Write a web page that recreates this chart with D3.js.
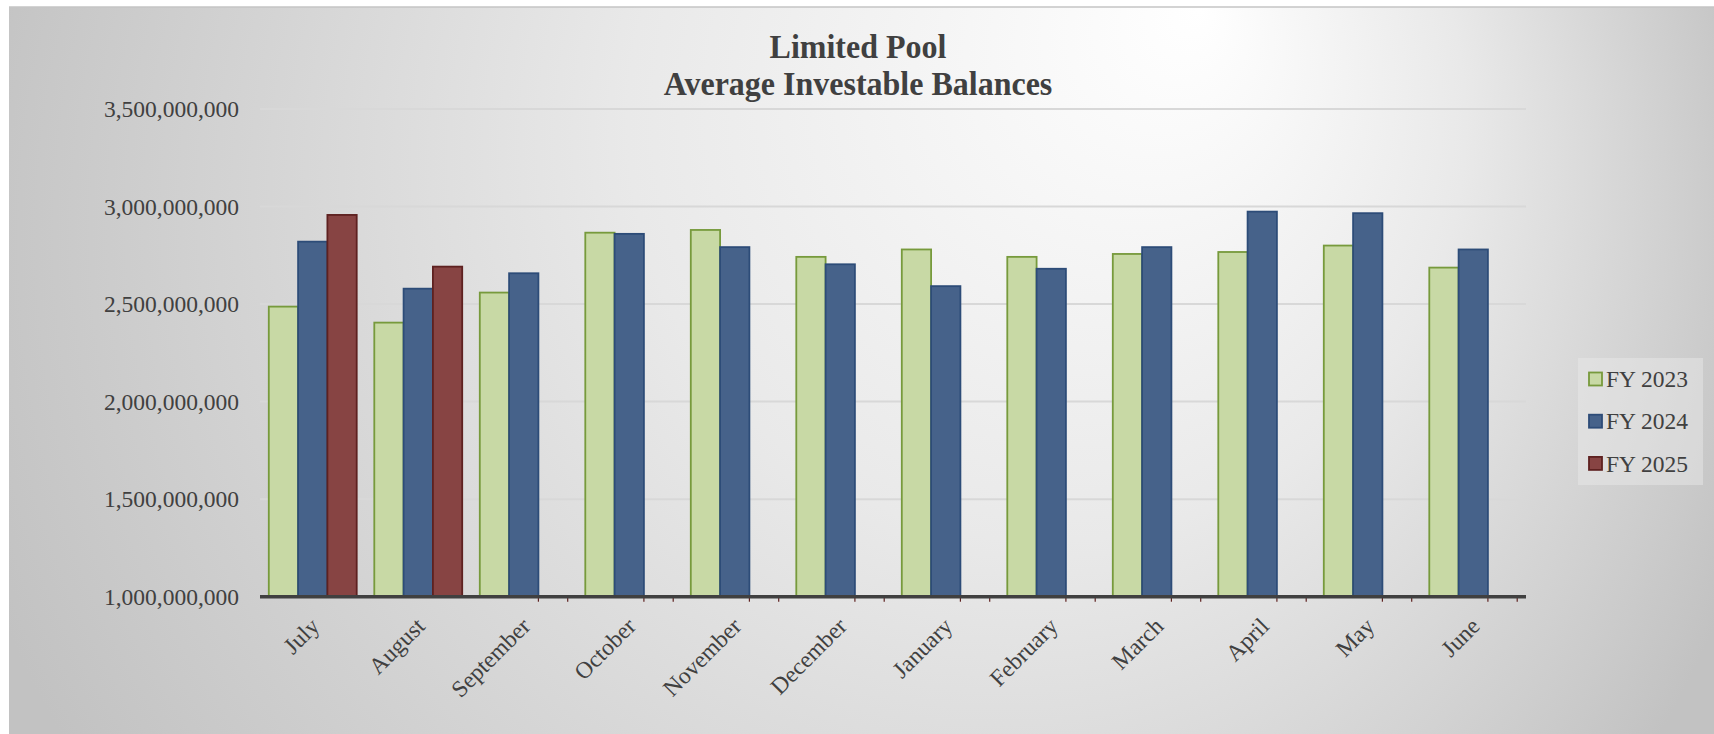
<!DOCTYPE html>
<html>
<head>
<meta charset="utf-8">
<script src="https://cdn.jsdelivr.net/npm/d3@7"></script>
<style>
  html, body { margin: 0; padding: 0; background: #ffffff; }
  svg { display: block; }
  text { font-family: "Liberation Serif", "Times New Roman", serif; fill: #404040; }
</style>
</head>
<body>
<svg id="chart" width="1714" height="734"></svg>
<script>
const months = ["July","August","September","October","November","December","January","February","March","April","May","June"];
const seriesNames = ["FY 2023","FY 2024","FY 2025"];
const fy2023 = [2487000000, 2405000000, 2559000000, 2866000000, 2880000000, 2742000000, 2780000000, 2742000000, 2757000000, 2767000000, 2800000000, 2687000000];
const fy2024 = [2820000000, 2579000000, 2658000000, 2860000000, 2792000000, 2704000000, 2592000000, 2681000000, 2792000000, 2974000000, 2966000000, 2780000000];
const fy2025 = [2957000000, 2692000000, null, null, null, null, null, null, null, null, null, null];
const yTicks = [1000000000, 1500000000, 2000000000, 2500000000, 3000000000, 3500000000];
const titleLines = ["Limited Pool", "Average Investable Balances"];

(function () {
const seriesValues = [fy2023, fy2024, fy2025];
const fills = ["#c8d9a5", "#46628a", "#874443"];
const strokes = ["#779a3c", "#2d4c78", "#5e2120"];

const svg = d3.select("#chart");
const W = 1714, H = 734;

// background gradient
const defs = svg.append("defs");
const grad = defs.append("radialGradient")
  .attr("id", "bg")
  .attr("gradientUnits", "userSpaceOnUse")
  .attr("cx", 860).attr("cy", 260).attr("r", 930)
  .attr("fx", 1200).attr("fy", 10);
grad.append("stop").attr("offset", "0").attr("stop-color", "#ffffff");
grad.append("stop").attr("offset", "0.45").attr("stop-color", "#e9e9e9");
grad.append("stop").attr("offset", "1").attr("stop-color", "#c2c2c2");

svg.append("rect").attr("x", 9).attr("y", 7).attr("width", W - 9).attr("height", H - 7)
  .attr("fill", "url(#bg)");
svg.append("line").attr("x1", 9).attr("x2", W).attr("y1", 7).attr("y2", 7)
  .attr("stroke", "#c4c4c4").attr("stroke-width", 1.5);

const pLeft = 260, pRight = 1526, pTop = 109, pBottom = 596.7;

const x0 = d3.scaleBand().domain(months).range([pLeft, pRight]).paddingInner(0).paddingOuter(0);
const x1 = d3.scaleBand().domain(seriesNames).range([0, x0.bandwidth()]).paddingInner(0).paddingOuter(0.3);
const y = d3.scaleLinear().domain([1000000000, 3500000000]).range([pBottom, pTop]);

// gridlines
svg.append("g").selectAll("line").data(yTicks.filter(d => d > 1000000000)).join("line")
  .attr("x1", pLeft).attr("x2", pRight)
  .attr("y1", d => y(d)).attr("y2", d => y(d))
  .attr("stroke", "#d8d8d8").attr("stroke-width", 2);

// y axis labels
const yAxis = d3.axisLeft(y).tickValues(yTicks).tickFormat(d3.format(",")).tickSize(0).tickPadding(21);
const gy = svg.append("g").attr("transform", `translate(${pLeft},0)`).call(yAxis);
gy.select(".domain").remove();
gy.selectAll("text")
  .style("font-family", '"Liberation Serif", "Times New Roman", serif')
  .style("font-size", "23.5px").attr("fill", "#404040");

// bars
const groups = svg.append("g").selectAll("g").data(months).join("g")
  .attr("transform", d => `translate(${x0(d)},0)`);

groups.each(function(m, i) {
  const g = d3.select(this);
  seriesNames.forEach((s, si) => {
    const v = seriesValues[si][i];
    if (v == null) {
      [x1(s), x1(s) + x1.bandwidth()].forEach(xx => {
        g.append("line").attr("x1", xx).attr("x2", xx)
          .attr("y1", y(1000000000)).attr("y2", y(1000000000) + 5)
          .attr("stroke", strokes[si]).attr("stroke-width", 1.2);
      });
      return;
    }
    g.append("rect")
      .attr("x", x1(s))
      .attr("y", y(v))
      .attr("width", x1.bandwidth())
      .attr("height", y(1000000000) - y(v))
      .attr("fill", fills[si])
      .attr("stroke", strokes[si])
      .attr("stroke-width", 1.8);
  });
});

// x axis
const xAxis = d3.axisBottom(x0).tickSize(0).tickPadding(0);
const gx = svg.append("g").attr("transform", `translate(0,${pBottom})`).call(xAxis);
gx.select(".domain").remove();
gx.append("line").attr("x1", pLeft).attr("x2", pRight).attr("y1", 0).attr("y2", 0)
  .attr("stroke", "#404040").attr("stroke-width", 3.5);
gx.selectAll(".tick text")
  .style("font-family", '"Liberation Serif", "Times New Roman", serif')
  .style("font-size", "23.5px").attr("fill", "#404040")
  .attr("text-anchor", "end")
  .attr("y", 0).attr("dy", 0)
  .attr("transform", "translate(8,31) rotate(-45)");

// title
svg.append("g").selectAll("text").data(titleLines).join("text")
  .attr("transform", (d, i) => `translate(858,${i === 0 ? 58 : 95}) scale(1,1.08)`)
  .attr("text-anchor", "middle")
  .style("font-size", "32px").style("font-weight", "bold")
  .text(d => d);

// legend
const lg = svg.append("g");
lg.append("rect").attr("x", 1578).attr("y", 358).attr("width", 125).attr("height", 127)
  .attr("fill", "#ececec").attr("fill-opacity", 0.45);
const items = lg.selectAll("g.item").data(seriesNames).join("g").attr("class", "item")
  .attr("transform", (d, i) => `translate(1589,${379 + i * 42.2})`);
items.append("rect").attr("x", 0).attr("y", -6.5).attr("width", 13).attr("height", 13)
  .attr("fill", (d, i) => fills[i]).attr("stroke", (d, i) => strokes[i]).attr("stroke-width", 1.8);
items.append("text").attr("x", 17).attr("dy", "0.35em")
  .style("font-size", "23.5px").text(d => d);
})();
</script>
</body>
</html>
